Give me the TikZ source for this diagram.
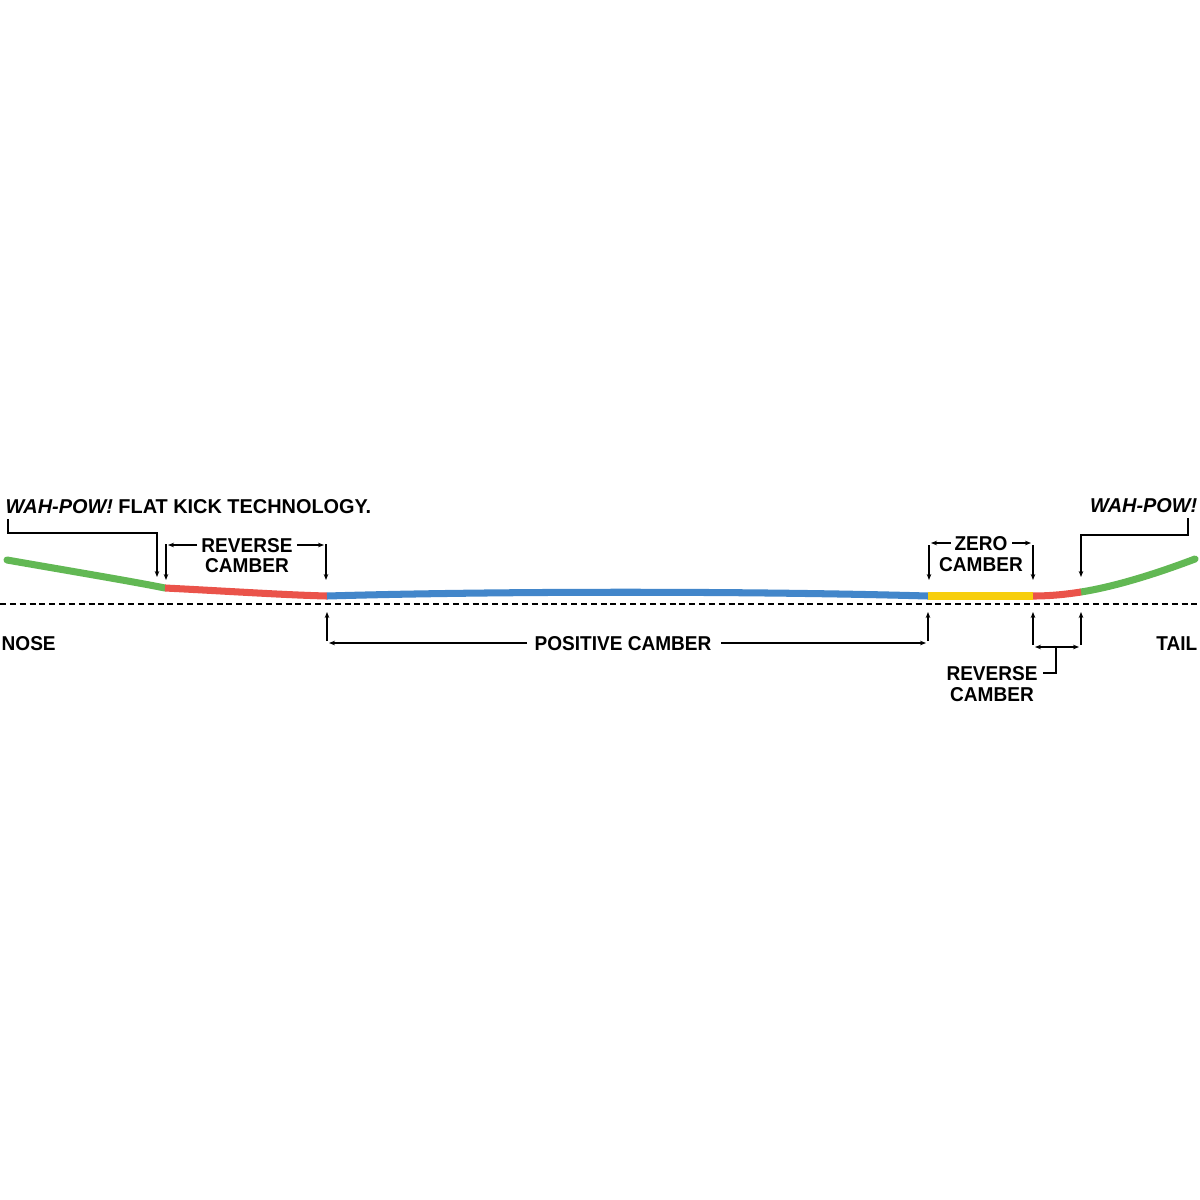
\documentclass[tikz,border=0pt]{standalone}
\usepackage{fontspec}
\setmainfont{Liberation Sans}[FakeStretch=0.95]
\usetikzlibrary{arrows.meta}
\definecolor{bgreen}{RGB}{98,184,84}
\definecolor{bred}{RGB}{234,83,74}
\definecolor{bblue}{RGB}{66,134,202}
\definecolor{byellow}{RGB}{247,206,12}
\begin{document}
\begin{tikzpicture}[x=0.01cm,y=-0.01cm,
  lbl/.style={font=\bfseries\fontsize{5.7}{6.8}\selectfont, inner sep=0pt, anchor=base},
  board/.style={line width=2pt, line cap=butt},
  ann/.style={line width=0.4pt, black},
  arr/.style={ann, -{Stealth[length=1.7pt,width=1.3pt]}},
  darr/.style={ann, {Stealth[length=1.7pt,width=1.3pt]}-{Stealth[length=1.7pt,width=1.3pt]}}
]
\useasboundingbox (0,0) rectangle (1200,1200);
\fill[white] (0,0) rectangle (1200,1200);

% ground line
\coordinate (g0) at (0,604);
\coordinate (g1) at (1200,604);
\draw[line width=0.55pt, dash pattern=on 1.7pt off 1.1pt] (g0) -- (g1);

% board points
\coordinate (n0) at (7,560);
\coordinate (n1) at (165,588);
\coordinate (n2) at (327,596);
\coordinate (n3) at (928,596);
\coordinate (n4) at (1033,596);
\coordinate (n5) at (1081,592);
\coordinate (n6) at (1195,559);

\draw[board, bgreen, line cap=round] (n0) .. controls (70,571) and (130,581) .. (n1);
\draw[board, bgreen, line cap=round] (n5) .. controls (1112,587) and (1150,576) .. (n6);
\draw[board, bred] (n1) .. controls (225,591) and (285,595) .. (n2);
\draw[board, bblue] (n2) .. controls (500,591) and (750,591) .. (n3);
\draw[board, byellow] (n3) -- (n4);
\draw[board, bred] (n4) .. controls (1052,596) and (1068,594) .. (n5);

% texts
\node[lbl, anchor=base west] (wahL) at (5,513) {\scalebox{1.045}[1]{\itshape WAH-POW!\upshape\ FLAT KICK TECHNOLOGY.}};
\node[lbl, anchor=base east] (wahR) at (1198,512) {\scalebox{1.045}[1]{\itshape WAH-POW!}};
\node[lbl] (rev1a) at (247,552) {REVERSE};
\node[lbl] (rev1b) at (247,572) {CAMBER};
\node[lbl] (zeroa) at (981,550) {ZERO};
\node[lbl] (zerob) at (981,571) {CAMBER};
\node[lbl] (pos) at (623,650) {POSITIVE CAMBER};
\node[lbl, anchor=base west] (nose) at (1,650) {NOSE};
\node[lbl, anchor=base east] (tail) at (1198,650) {TAIL};
\node[lbl] (rev2a) at (992,680) {REVERSE};
\node[lbl] (rev2b) at (992,701) {CAMBER};

% WAH-POW left leader
\coordinate (lw0) at (8,519);
\coordinate (lw1) at (157,533);
\coordinate (lw2) at (157,577);
\draw[arr] (lw0) |- (lw1) -- (lw2);

% WAH-POW right leader
\coordinate (rw0) at (1188,518);
\coordinate (rw1) at (1081,535);
\coordinate (rw2) at (1081,577);
\draw[arr] (rw0) |- (rw1) -- (rw2);

% Reverse camber (nose) bracket
\coordinate (a0) at (166,544);
\coordinate (a1) at (166,580);
\coordinate (a2) at (326,544);
\coordinate (a3) at (326,580);
\draw[arr] (a0) -- (a1);
\draw[arr] (a2) -- (a3);
\coordinate (a4) at (197,545);
\coordinate (a5) at (168,545);
\coordinate (a6) at (297,545);
\coordinate (a7) at (324,545);
\draw[arr] (a4) -- (a5);
\draw[arr] (a6) -- (a7);

% Zero camber bracket
\coordinate (z0) at (929,545);
\coordinate (z1) at (929,580);
\coordinate (z2) at (1033,545);
\coordinate (z3) at (1033,580);
\draw[arr] (z0) -- (z1);
\draw[arr] (z2) -- (z3);
\coordinate (z4) at (951,543);
\coordinate (z5) at (931,543);
\coordinate (z6) at (1012,543);
\coordinate (z7) at (1031,543);
\draw[arr] (z4) -- (z5);
\draw[arr] (z6) -- (z7);

% Positive camber bracket
\coordinate (p0) at (327,641);
\coordinate (p1) at (327,612);
\coordinate (p2) at (928,641);
\coordinate (p3) at (928,612);
\draw[arr] (p0) -- (p1);
\draw[arr] (p2) -- (p3);
\coordinate (p4) at (527,643);
\coordinate (p5) at (329,643);
\coordinate (p6) at (721,643);
\coordinate (p7) at (926,643);
\draw[arr] (p4) -- (p5);
\draw[arr] (p6) -- (p7);

% Reverse camber (tail) bracket
\coordinate (t0) at (1033,645);
\coordinate (t1) at (1033,612);
\coordinate (t2) at (1081,645);
\coordinate (t3) at (1081,612);
\draw[arr] (t0) -- (t1);
\draw[arr] (t2) -- (t3);
\coordinate (t4) at (1035,647);
\coordinate (t5) at (1079,647);
\coordinate (tm) at (1056,647);
\draw[darr] (t4) -- (t5);
\coordinate (t6) at (1043,673);
\draw[ann] (tm) |- (t6);
\end{tikzpicture}
\end{document}
